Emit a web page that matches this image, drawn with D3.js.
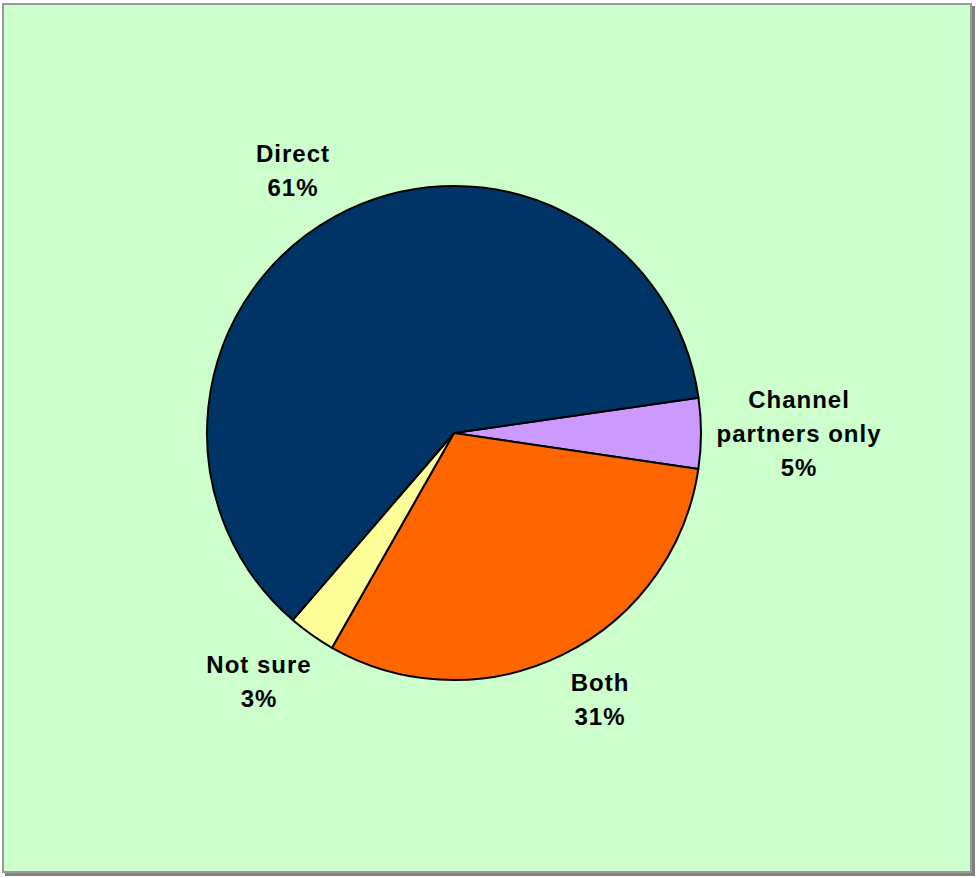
<!DOCTYPE html>
<html><head><meta charset="utf-8">
<script src="https://cdn.jsdelivr.net/npm/d3@7"></script>
<style>html,body{margin:0;padding:0;background:#fff;}</style>
</head><body>
<svg id="chart" width="976" height="878"></svg>
<script>
const categories = ["Channel partners only", "Both", "Not sure", "Direct"];
const values = [4.6, 30.9, 3.1, 61.4];
const percentLabels = ["5%", "31%", "3%", "61%"];
const labelLines = [["Channel", "partners only"], ["Both"], ["Not sure"], ["Direct"]];
const colors = ["#CC99FF", "#FF6600", "#FFFF99", "#003366"];

const svg = d3.select("#chart");
// frame with shadow
svg.append("rect").attr("x", 5).attr("y", 6).attr("width", 970).attr("height", 870).attr("fill", "#808080");
svg.append("rect").attr("x", 3).attr("y", 4).attr("width", 968).attr("height", 868)
  .attr("fill", "#CCFFCC").attr("stroke", "#999").attr("stroke-width", 2);

const cx = 454, cy = 433, r = 247;
const start = 81.8 * Math.PI / 180;
const pie = d3.pie().sort(null).startAngle(start).endAngle(start + 2 * Math.PI);
const arcs = pie(values);
const arc = d3.arc().innerRadius(0).outerRadius(r);
const g = svg.append("g").attr("transform", `translate(${cx},${cy})`);
g.selectAll("path").data(arcs).enter().append("path")
  .attr("d", arc).attr("fill", (d, i) => colors[i])
  .attr("stroke", "#000").attr("stroke-width", 2).attr("stroke-linejoin", "round");

// label positions (anchor centers, first baseline)
const labelPos = [[799, 408], [600, 691], [259, 673], [293, 162]];
const lh = 34;
labelLines.forEach((lines, i) => {
  const t = svg.append("text").attr("text-anchor", "middle")
    .attr("font-family", "Liberation Sans, Arial, sans-serif")
    .attr("font-weight", "bold").attr("font-size", 24)
    .attr("letter-spacing", 1).attr("fill", "#000");
  const all = lines.concat([percentLabels[i]]);
  all.forEach((s, k) => {
    t.append("tspan").attr("x", labelPos[i][0]).attr("y", labelPos[i][1] + k * lh).text(s);
  });
});
</script>
</body></html>
